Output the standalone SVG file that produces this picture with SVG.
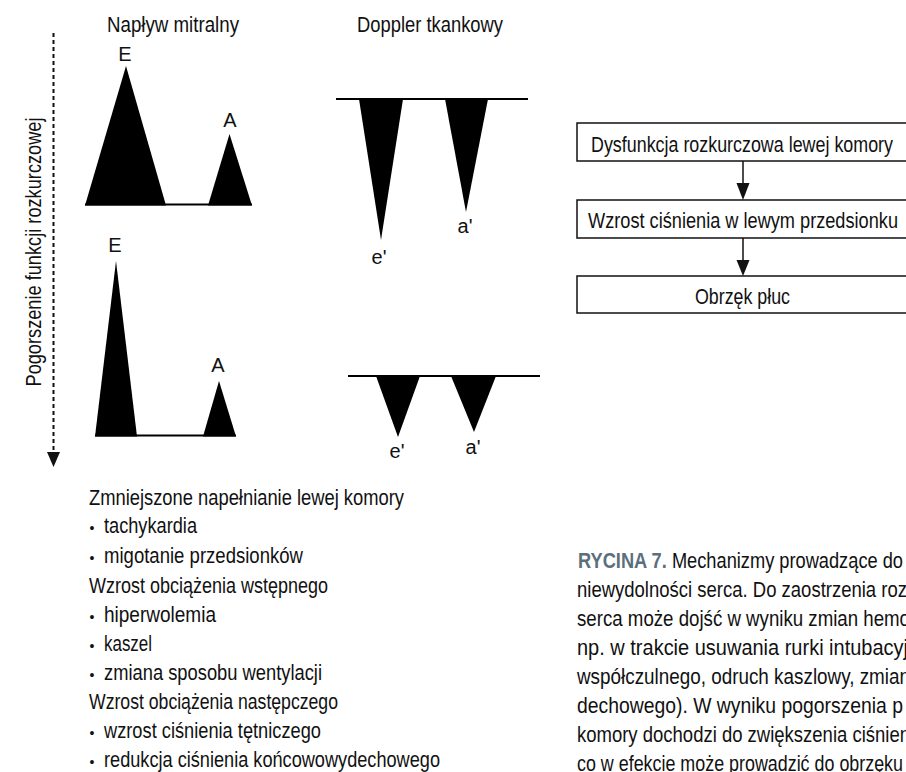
<svg xmlns="http://www.w3.org/2000/svg" width="906" height="772" viewBox="0 0 906 772">
<style>
text{font-family:"Liberation Sans",Arial,sans-serif;font-size:22px;fill:#111}
.lbl{font-size:20px}
.c{text-anchor:middle}
.box{fill:#fff;stroke:#111;stroke-width:1.5}
.wave{fill:#000}
.base{stroke:#000;stroke-width:2;fill:none}
.conn{stroke:#111;stroke-width:1.5;fill:none}
.head{fill:#111}
.bul{font-size:14px}
.cap{font-weight:bold;fill:#5b6f7c}
</style>
<rect width="906" height="772" fill="#fff"/>

<g id="axis">
<line x1="53.5" y1="33" x2="53.5" y2="452" stroke="#111" stroke-width="2" stroke-dasharray="4 3"/>
<polygon points="47,452 60,452 53.5,467" fill="#111"/>
<text transform="translate(41,252) rotate(-90)" class="c" textLength="269" lengthAdjust="spacingAndGlyphs">Pogorszenie funkcji rozkurczowej</text>
</g>

<g id="titles">
<text x="173" y="32" class="c" textLength="132" lengthAdjust="spacingAndGlyphs">Napływ mitralny</text>
<text x="430" y="32" class="c" textLength="146" lengthAdjust="spacingAndGlyphs">Doppler tkankowy</text>
</g>

<g id="mitral-top">
<line class="base" x1="85" y1="204.5" x2="252" y2="204.5"/>
<polygon class="wave" points="85,205.5 126,66 166,205.5"/>
<polygon class="wave" points="208,205.5 229.5,134 252,205.5"/>
<text class="lbl c" x="125" y="61">E</text>
<text class="lbl c" x="230" y="127">A</text>
</g>

<g id="mitral-bottom">
<line class="base" x1="95" y1="435.5" x2="236" y2="435.5"/>
<polygon class="wave" points="95,436.5 116,261 137,436.5"/>
<polygon class="wave" points="203,436.5 219,381 236,436.5"/>
<text class="lbl c" x="115" y="252">E</text>
<text class="lbl c" x="218" y="372">A</text>
</g>

<g id="doppler-top">
<line class="base" x1="336" y1="99" x2="528" y2="99"/>
<polygon class="wave" points="359,99 403,99 381,240"/>
<polygon class="wave" points="445,99 488,99 466,212"/>
<text class="lbl c" x="379" y="264">e'</text>
<text class="lbl c" x="465" y="233">a'</text>
</g>

<g id="doppler-bottom">
<line class="base" x1="348" y1="376" x2="540" y2="376"/>
<polygon class="wave" points="376,376 420,376 398,437"/>
<polygon class="wave" points="451,376 496,376 474,432"/>
<text class="lbl c" x="397" y="458">e'</text>
<text class="lbl c" x="473" y="454">a'</text>
</g>

<g id="node-dysfunkcja">
<rect class="box" x="577" y="123" width="331" height="38"/>
<text x="742" y="152" class="c" textLength="302" lengthAdjust="spacingAndGlyphs">Dysfunkcja rozkurczowa lewej komory</text>
</g>
<g id="node-wzrost">
<rect class="box" x="577" y="200" width="331" height="38"/>
<text x="743" y="228" class="c" textLength="310" lengthAdjust="spacingAndGlyphs">Wzrost ciśnienia w lewym przedsionku</text>
</g>
<g id="node-obrzek">
<rect class="box" x="577" y="276" width="331" height="37"/>
<text x="742.5" y="304" class="c" textLength="95" lengthAdjust="spacingAndGlyphs">Obrzęk płuc</text>
</g>

<g id="connectors">
<line class="conn" x1="743" y1="161" x2="743" y2="184"/>
<polygon class="head" points="736.5,183 749.5,183 743,200"/>
<line class="conn" x1="743" y1="238" x2="743" y2="261"/>
<polygon class="head" points="736.5,260 749.5,260 743,276"/>
</g>

<g id="list">
<text x="89" y="505" textLength="315" lengthAdjust="spacingAndGlyphs">Zmniejszone napełnianie lewej komory</text>
<text x="92" y="533" class="bul c">•</text>
<text x="104" y="533" textLength="93" lengthAdjust="spacingAndGlyphs">tachykardia</text>
<text x="92" y="563" class="bul c">•</text>
<text x="104" y="563" textLength="199" lengthAdjust="spacingAndGlyphs">migotanie przedsionków</text>
<text x="89" y="593" textLength="239" lengthAdjust="spacingAndGlyphs">Wzrost obciążenia wstępnego</text>
<text x="92" y="622" class="bul c">•</text>
<text x="104" y="622" textLength="112" lengthAdjust="spacingAndGlyphs">hiperwolemia</text>
<text x="92" y="651" class="bul c">•</text>
<text x="104" y="651" textLength="48" lengthAdjust="spacingAndGlyphs">kaszel</text>
<text x="92" y="680" class="bul c">•</text>
<text x="104" y="680" textLength="218" lengthAdjust="spacingAndGlyphs">zmiana sposobu wentylacji</text>
<text x="89" y="709" textLength="249" lengthAdjust="spacingAndGlyphs">Wzrost obciążenia następczego</text>
<text x="92" y="738" class="bul c">•</text>
<text x="104" y="738" textLength="217" lengthAdjust="spacingAndGlyphs">wzrost ciśnienia tętniczego</text>
<text x="92" y="767" class="bul c">•</text>
<text x="104" y="767" textLength="336" lengthAdjust="spacingAndGlyphs">redukcja ciśnienia końcowowydechowego</text>
</g>

<g id="caption">
<text x="578" y="568" textLength="325" lengthAdjust="spacingAndGlyphs"><tspan class="cap">RYCINA 7.</tspan> Mechanizmy prowadzące do</text>
<text x="577" y="597" textLength="330" lengthAdjust="spacingAndGlyphs">niewydolności serca. Do zaostrzenia roz</text>
<text x="577" y="626" textLength="333" lengthAdjust="spacingAndGlyphs">serca może dojść w wyniku zmian hemo</text>
<text x="577" y="655" textLength="331" lengthAdjust="spacingAndGlyphs">np. w trakcie usuwania rurki intubacyj</text>
<text x="577" y="684" textLength="333" lengthAdjust="spacingAndGlyphs">współczulnego, odruch kaszlowy, zmian</text>
<text x="577" y="713" textLength="326" lengthAdjust="spacingAndGlyphs">dechowego). W wyniku pogorszenia p</text>
<text x="577" y="742" textLength="333" lengthAdjust="spacingAndGlyphs">komory dochodzi do zwiększenia ciśnien</text>
<text x="577" y="771" textLength="326" lengthAdjust="spacingAndGlyphs">co w efekcie może prowadzić do obrzęku</text>
</g>
</svg>
